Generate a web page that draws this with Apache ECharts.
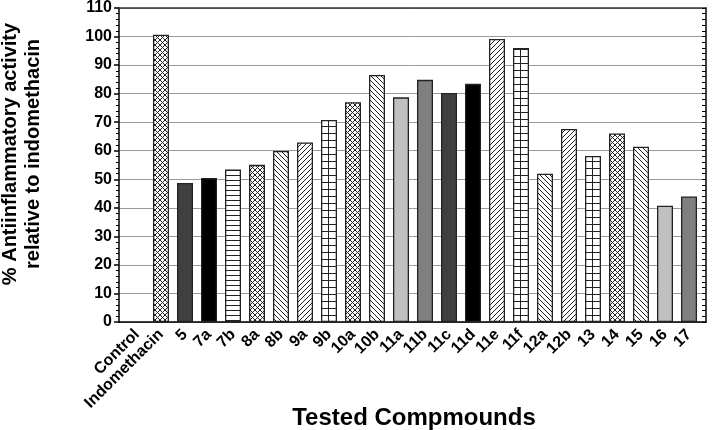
<!DOCTYPE html>
<html>
<head>
<meta charset="utf-8">
<script src="https://cdn.jsdelivr.net/npm/echarts@6/dist/echarts.min.js"></script>
<style>html,body{margin:0;padding:0;background:#fff}#c{width:714px;height:430px}</style>
</head>
<body>
<div id="c"></div>
<script>
const categories = ['Control','Indomethacin','5','7a','7b','8a','8b','9a','9b','10a','10b','11a','11b','11c','11d','11e','11f','12a','12b','13','14','15','16','17'];
const values = [null,100,48.4,50.1,53.1,54.7,59.5,62.5,70.3,76.5,86.0,78.2,84.3,79.7,82.9,98.5,95.4,51.6,67.2,57.8,65.6,61.0,40.5,43.7];
const fills = ['none','cross','dark','black','hlines','cross','back','fwd','grid','cross','back','light','mid','dark','black','fwd','grid','back','fwd','grid','cross','back','light','mid'];
const yTicks = [0,10,20,30,40,50,60,70,80,90,100,110];

const FONT = 'Liberation Sans, Arial, sans-serif';

function makeTile(kind){
  const c = document.createElement('canvas');
  let w = 5, h = 5;
  if (kind === 'hlines') { w = 4; h = 5; }
  if (kind === 'grid') { w = 8; h = 7; }
  c.width = w; c.height = h;
  const g = c.getContext('2d');
  g.fillStyle = '#fff'; g.fillRect(0,0,w,h);
  g.strokeStyle = '#222'; g.lineWidth = 1;
  g.beginPath();
  if (kind === 'fwd' || kind === 'cross') {
    g.moveTo(0,h); g.lineTo(w,0);
    g.moveTo(-1,1); g.lineTo(1,-1);
    g.moveTo(w-1,h+1); g.lineTo(w+1,h-1);
  }
  if (kind === 'back' || kind === 'cross') {
    g.moveTo(0,0); g.lineTo(w,h);
    g.moveTo(-1,h-1); g.lineTo(1,h+1);
    g.moveTo(w-1,-1); g.lineTo(w+1,1);
  }
  if (kind === 'hlines' || kind === 'grid') {
    g.moveTo(0,0.5); g.lineTo(w,0.5);
  }
  if (kind === 'grid') {
    g.moveTo(0.5,0); g.lineTo(0.5,h);
  }
  g.stroke();
  return c;
}
function fillFor(kind){
  if (kind === 'dark') return '#404040';
  if (kind === 'black') return '#000000';
  if (kind === 'mid') return '#808080';
  if (kind === 'light') return '#c0c0c0';
  if (kind === 'none') return 'transparent';
  return { image: makeTile(kind), repeat: 'repeat' };
}

const barData = values.map((v,i) => ({
  value: v,
  itemStyle: { color: fillFor(fills[i]), borderColor: '#222', borderWidth: 1.3 }
}));

const chart = echarts.init(document.getElementById('c'), null, {renderer:'canvas'});
chart.setOption({
  animation: false,
  backgroundColor: '#fff',
  grid: [
    {left:119, top:6, width:587, height:316},
    {left:125, top:6, width:576, height:316}
  ],
  xAxis: [
    {gridIndex:0, type:'value', min:0, max:1, position:'top',
     axisLine:{show:true, onZero:false, lineStyle:{color:'#333', width:1.5}},
     axisTick:{show:false}, axisLabel:{show:false}, splitLine:{show:false}},
    {gridIndex:0, type:'value', min:0, max:1, position:'bottom',
     axisLine:{show:true, onZero:false, lineStyle:{color:'#000', width:1.5}},
     axisTick:{show:false}, axisLabel:{show:false}, splitLine:{show:false}},
    {gridIndex:1, type:'category', data:categories,
     axisLine:{show:false}, axisTick:{show:false},
     axisLabel:{rotate:45, interval:0, fontSize:16, fontWeight:'bold', fontFamily:FONT, color:'#000', margin:10}}
  ],
  yAxis: [
    {gridIndex:0, type:'value', min:yTicks[0], max:yTicks[yTicks.length-1], interval:10, position:'left',
     axisLine:{show:true, onZero:false, lineStyle:{color:'#000', width:1.5}},
     axisTick:{show:true, length:5, lineStyle:{color:'#000', width:1.5}},
     minorTick:{show:true, splitNumber:5, length:3, lineStyle:{color:'#000', width:1}},
     axisLabel:{fontSize:16, fontWeight:'bold', fontFamily:FONT, color:'#000', margin:7},
     splitLine:{show:true, lineStyle:{color:'#9a9a9a', width:1}}},
    {gridIndex:0, type:'value', min:0, max:110, interval:10, position:'right',
     axisLine:{show:true, onZero:false, lineStyle:{color:'#000', width:1.5}},
     axisTick:{show:true, inside:true, length:4, lineStyle:{color:'#000', width:1}},
     minorTick:{show:true, splitNumber:5, length:4, lineStyle:{color:'#000', width:1}},
     axisLabel:{show:false}, splitLine:{show:false}},
    {gridIndex:1, type:'value', min:0, max:110, show:false}
  ],
  series: [{
    type:'bar', xAxisIndex:2, yAxisIndex:2, barWidth:16, data:barData
  }],
  graphic: [
    {type:'text', x:22, y:154, rotation:Math.PI/2,
     style:{text:'% Antiinflammatory activity\nrelative to indomethacin', fontSize:20, fontWeight:'bold', fontFamily:FONT,
            fill:'#000', align:'center', verticalAlign:'middle', lineHeight:23}},
    {type:'text', x:414, y:418,
     style:{text:'Tested Compmounds', fontSize:24, fontWeight:'bold', fontFamily:FONT,
            fill:'#000', align:'center', verticalAlign:'middle'}}
  ]
});
</script>
</body>
</html>
